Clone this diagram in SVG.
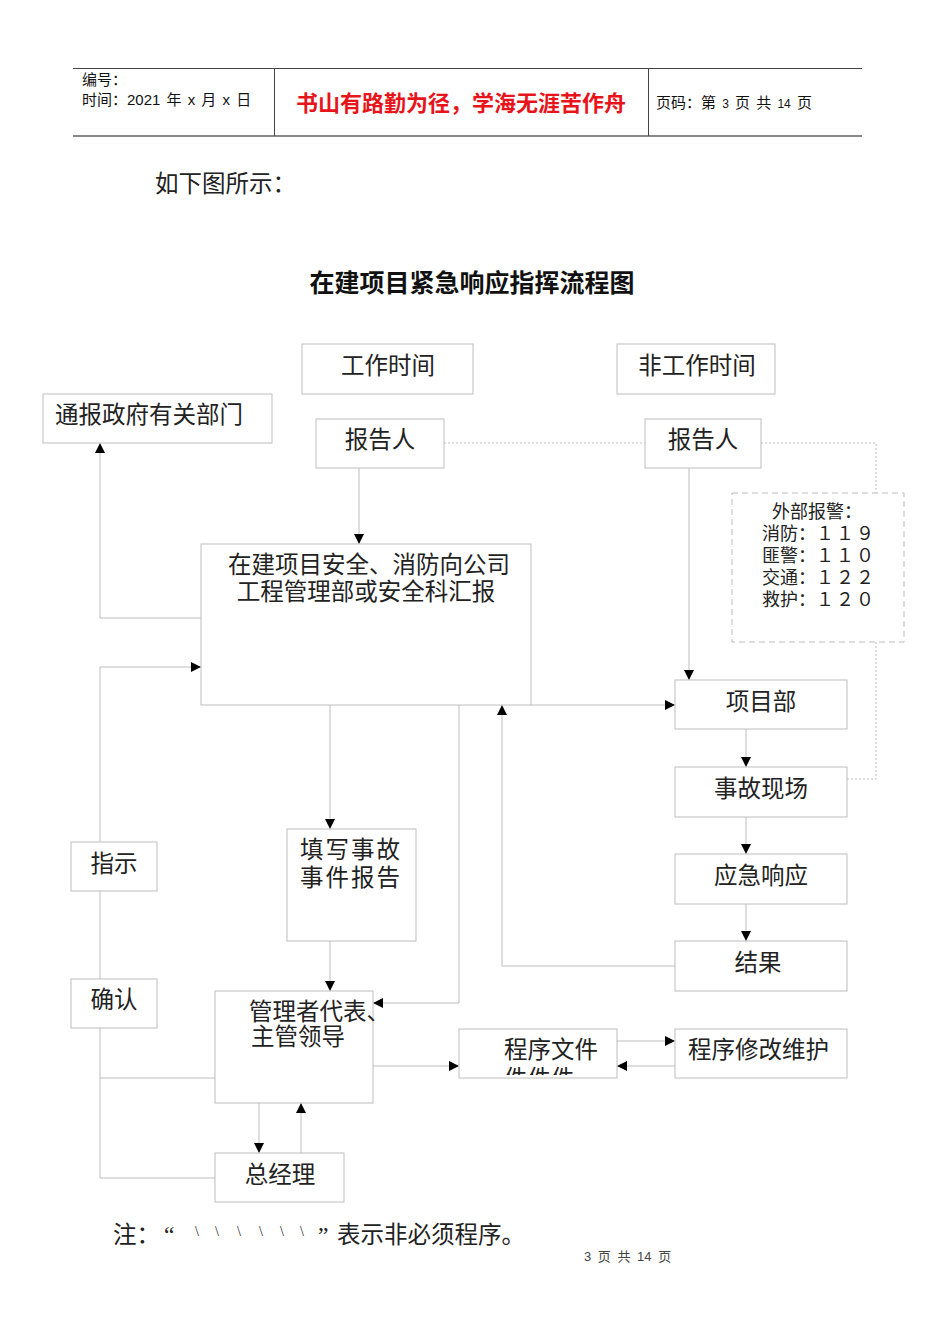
<svg xmlns="http://www.w3.org/2000/svg" width="950" height="1344" viewBox="0 0 950 1344">
<style>
.bx{fill:#fff;stroke:#bdbdbd;stroke-width:1}
.ln{fill:none;stroke:#bdbdbd;stroke-width:1}
.dt{fill:none;stroke:#bdbdbd;stroke-width:1;stroke-dasharray:2 2}
.dsh{fill:none;stroke:#bdbdbd;stroke-width:1;stroke-dasharray:6 4}
.t{font-family:"Liberation Serif","Noto Sans CJK SC",serif;font-size:23.5px;fill:#222}
.tc{text-anchor:middle}
.hd{font-family:"Liberation Sans","Noto Sans CJK SC",sans-serif;font-size:15px;fill:#111}
.sm{font-family:"Liberation Serif","Noto Sans CJK SC",serif;font-size:18px;fill:#222}
.tk{font-size:14px}
</style>
<defs>
<marker id="ar" markerUnits="userSpaceOnUse" markerWidth="10" markerHeight="10" viewBox="0 0 10 10" refX="10" refY="5" orient="auto">
<path d="M0,0 L10,5 L0,10 z" fill="#000"/>
</marker>
<clipPath id="cpf"><rect x="459" y="1029" width="158" height="46"/></clipPath>
</defs>

<g id="header">
<line x1="73" y1="68.5" x2="862" y2="68.5" stroke="#444" stroke-width="1"/>
<line x1="73" y1="136" x2="862" y2="136" stroke="#888" stroke-width="2"/>
<line x1="274.5" y1="68" x2="274.5" y2="136" stroke="#444"/>
<line x1="648.5" y1="68" x2="648.5" y2="136" stroke="#444"/>
<text class="hd" x="82" y="85">编号：</text>
<text class="hd" x="82" y="105" word-spacing="2">时间：2021 年 x 月 x 日</text>
<text x="461" y="111" text-anchor="middle" font-family="Liberation Sans,'Noto Sans CJK SC',sans-serif" font-size="22" font-weight="bold" fill="#e8141b">书山有路勤为径，学海无涯苦作舟</text>
<text class="hd" x="656" y="108" word-spacing="2">页码：第 <tspan font-size="12">3</tspan> 页  共 <tspan font-size="12">14</tspan> 页</text>
</g>

<text class="t" x="155" y="192" font-size="23">如下图所示：</text>
<text x="472" y="292" text-anchor="middle" font-family="Liberation Serif,'Noto Sans CJK SC',serif" font-size="25" font-weight="bold" fill="#111">在建项目紧急响应指挥流程图</text>

<g id="connectors">
<path class="ln" d="M359,468 V544" marker-end="url(#ar)"/>
<path class="dt" d="M444,443 H645"/>
<path class="dt" d="M761,443 H876 V493"/>
<path class="dt" d="M876,642 V779 H847"/>
<path class="ln" d="M689,468 V680" marker-end="url(#ar)"/>
<path class="ln" d="M746,729 V767" marker-end="url(#ar)"/>
<path class="ln" d="M746,817 V854" marker-end="url(#ar)"/>
<path class="ln" d="M746,904 V941" marker-end="url(#ar)"/>
<path class="ln" d="M531,705 H675" marker-end="url(#ar)"/>
<path class="ln" d="M675,966 H502 V705" marker-end="url(#ar)"/>
<path class="ln" d="M330,705 V829" marker-end="url(#ar)"/>
<path class="ln" d="M330,941 V991" marker-end="url(#ar)"/>
<path class="ln" d="M459,705 V1003 H373" marker-end="url(#ar)"/>
<path class="ln" d="M373,1066 H459" marker-end="url(#ar)"/>
<path class="ln" d="M617,1041 H675" marker-end="url(#ar)"/>
<path class="ln" d="M675,1066 H617" marker-end="url(#ar)"/>
<path class="ln" d="M259,1103 V1153" marker-end="url(#ar)"/>
<path class="ln" d="M301,1153 V1103" marker-end="url(#ar)"/>
<path class="ln" d="M201,618 H100 V443" marker-end="url(#ar)"/>
<path class="ln" d="M100,842 V667 H201" marker-end="url(#ar)"/>
<path class="ln" d="M100,891 V979"/>
<path class="ln" d="M100,1028 V1178 H215"/>
<path class="ln" d="M100,1078 H215"/>
</g>

<g id="n-work"><rect class="bx" x="302" y="344" width="171" height="50"/><text class="t tc" x="388" y="374">工作时间</text></g>
<g id="n-offwork"><rect class="bx" x="617" y="344" width="158" height="50"/><text class="t tc" x="697" y="374">非工作时间</text></g>
<g id="n-gov"><rect class="bx" x="43" y="394" width="229" height="49"/><text class="t" x="55" y="423" font-size="24">通报政府有关部门</text></g>
<g id="n-rep1"><rect class="bx" x="316" y="419" width="128" height="49"/><text class="t tc" x="380" y="448">报告人</text></g>
<g id="n-rep2"><rect class="bx" x="645" y="419" width="116" height="49"/><text class="t tc" x="703" y="448">报告人</text></g>
<g id="n-ext">
<rect class="dsh" x="732" y="493" width="172" height="149"/>
<text class="sm" x="772" y="518">外部报警：</text>
<text class="sm" x="762" y="540">消防：<tspan letter-spacing="2">１１９</tspan></text>
<text class="sm" x="762" y="562">匪警：<tspan letter-spacing="2">１１０</tspan></text>
<text class="sm" x="762" y="584">交通：<tspan letter-spacing="2">１２２</tspan></text>
<text class="sm" x="762" y="606">救护：<tspan letter-spacing="2">１２０</tspan></text>
</g>
<g id="n-main"><rect class="bx" x="201" y="544" width="330" height="161"/>
<text class="t tc" x="369" y="573" font-size="24">在建项目安全、消防向公司</text>
<text class="t tc" x="366" y="600" font-size="24">工程管理部或安全科汇报</text></g>
<g id="n-proj"><rect class="bx" x="675" y="680" width="172" height="49"/><text class="t tc" x="761" y="710">项目部</text></g>
<g id="n-scene"><rect class="bx" x="675" y="767" width="172" height="50"/><text class="t tc" x="761" y="797">事故现场</text></g>
<g id="n-resp"><rect class="bx" x="675" y="854" width="172" height="50"/><text class="t tc" x="761" y="884">应急响应</text></g>
<g id="n-result"><rect class="bx" x="675" y="941" width="172" height="50"/><text class="t tc" x="758" y="971">结果</text></g>
<g id="n-instr"><rect class="bx" x="71" y="842" width="86" height="49"/><text class="t tc" x="114" y="872">指示</text></g>
<g id="n-form"><rect class="bx" x="287" y="829" width="129" height="112"/>
<text class="t" x="300" y="858" letter-spacing="2">填写事故</text>
<text class="t" x="300" y="886" letter-spacing="2">事件报告</text></g>
<g id="n-confirm"><rect class="bx" x="71" y="979" width="86" height="49"/><text class="t tc" x="114" y="1008">确认</text></g>
<g id="n-mgr"><rect class="bx" x="215" y="991" width="158" height="112"/>
<text class="t" x="249" y="1020" font-size="20.5">管理者代表、</text>
<text class="t" x="251" y="1045" font-size="20.5">主管领导</text></g>
<g id="n-doc"><rect class="bx" x="459" y="1029" width="158" height="49"/>
<text class="t" x="504" y="1058">程序文件</text>
<text class="t" x="504" y="1087" clip-path="url(#cpf)">件件件</text></g>
<g id="n-maint"><rect class="bx" x="675" y="1029" width="172" height="49"/><text class="t" x="688" y="1058">程序修改维护</text></g>
<g id="n-gm"><rect class="bx" x="215" y="1153" width="129" height="49"/><text class="t tc" x="280" y="1183">总经理</text></g>

<g id="note">
<text class="t" y="1243" font-size="21"><tspan x="113">注：</tspan><tspan x="164">“</tspan><tspan x="318">”</tspan><tspan x="337">表示非必须程序。</tspan></text>
<text class="t tk" y="1236"><tspan x="195">\</tspan><tspan x="215">\</tspan><tspan x="237">\</tspan><tspan x="259">\</tspan><tspan x="280">\</tspan><tspan x="300">\</tspan></text>
</g>
<text x="584" y="1261" font-family="Liberation Sans,'Noto Sans CJK SC',sans-serif" font-size="13" fill="#444" word-spacing="3">3 页 共 14 页</text>
</svg>
